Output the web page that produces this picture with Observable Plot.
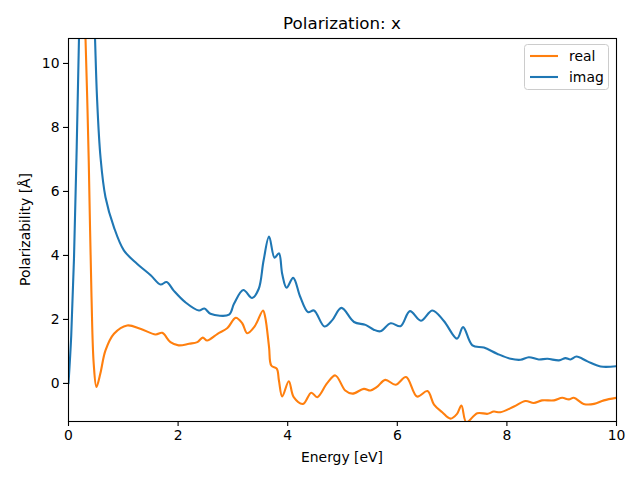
<!DOCTYPE html>
<html>
<head>
<meta charset="utf-8">
<script src="https://cdn.jsdelivr.net/npm/d3@7"></script>
<script src="https://cdn.jsdelivr.net/npm/@observablehq/plot@0.6"></script>
<style>
  html, body { margin: 0; padding: 0; background: white; }
</style>
</head>
<body>
<div id="chart"></div>
<script>
// Energy [eV] and imaginary part
const imagEnergy = [0, 0.05, 0.1, 0.15, 0.2, 0.27, 0.35, 0.42, 0.48, 0.52, 0.584, 0.675, 0.83, 1.01, 1.25, 1.5, 1.68, 1.79, 1.92, 2.13, 2.38, 2.48, 2.59, 2.93, 3.02, 3.19, 3.35, 3.47, 3.56, 3.66, 3.76, 3.84, 3.90, 3.98, 4.10, 4.23, 4.37, 4.48, 4.67, 4.81, 4.98, 5.21, 5.42, 5.57, 5.69, 5.88, 6.06, 6.23, 6.43, 6.64, 6.85, 7.09, 7.20, 7.37, 7.58, 7.82, 8.07, 8.25, 8.40, 8.58, 8.74, 8.95, 9.07, 9.16, 9.27, 9.47, 9.71, 10.0];
const imagValues = [0, 1.5, 3.9, 7.4, 11.5, 16, 17, 14, 11, 8.95, 7.07, 5.82, 4.88, 4.16, 3.74, 3.38, 3.09, 3.17, 2.9, 2.54, 2.28, 2.34, 2.18, 2.15, 2.49, 2.92, 2.67, 2.95, 3.84, 4.59, 3.93, 4.07, 3.42, 2.99, 3.3, 2.7, 2.23, 2.28, 1.78, 1.97, 2.36, 1.92, 1.83, 1.68, 1.63, 1.88, 1.79, 2.26, 1.96, 2.28, 1.95, 1.40, 1.76, 1.19, 1.12, 0.93, 0.77, 0.74, 0.82, 0.75, 0.77, 0.72, 0.79, 0.75, 0.84, 0.69, 0.53, 0.54];

// Energy [eV] and real part
const realEnergy = [0, 0.2, 0.28, 0.31, 0.34, 0.37, 0.42, 0.46, 0.51, 0.58, 0.675, 0.83, 1.07, 1.31, 1.59, 1.71, 1.86, 2.01, 2.20, 2.35, 2.45, 2.53, 2.72, 2.90, 3.05, 3.17, 3.26, 3.40, 3.55, 3.59, 3.66, 3.70, 3.80, 3.84, 3.90, 4.02, 4.11, 4.28, 4.43, 4.54, 4.72, 4.87, 5.05, 5.18, 5.39, 5.51, 5.63, 5.78, 5.97, 6.16, 6.36, 6.55, 6.67, 6.82, 6.97, 7.09, 7.17, 7.26, 7.46, 7.65, 7.76, 7.88, 8.13, 8.34, 8.49, 8.64, 8.86, 9.01, 9.13, 9.22, 9.40, 9.59, 9.77, 10.0];
const realValues = [20, 15, 12.3, 10.8, 9.0, 6.9, 2.7, 0.62, -0.11, 0.3, 1.03, 1.55, 1.81, 1.71, 1.53, 1.58, 1.29, 1.19, 1.24, 1.29, 1.43, 1.34, 1.55, 1.73, 2.05, 1.88, 1.57, 1.79, 2.28, 2.07, 1.13, 0.56, 0.46, 0.09, -0.41, 0.07, -0.43, -0.64, -0.29, -0.43, 0.01, 0.25, -0.22, -0.32, -0.17, -0.22, -0.11, 0.11, -0.04, 0.2, -0.41, -0.24, -0.66, -0.9, -1.1, -0.95, -0.69, -1.21, -0.93, -0.95, -0.88, -0.9, -0.72, -0.55, -0.61, -0.53, -0.53, -0.45, -0.5, -0.45, -0.64, -0.64, -0.53, -0.45];

const xTicks = [0, 2, 4, 6, 8, 10];
const yTicks = [0, 2, 4, 6, 8, 10];
const seriesNames = ["real", "imag"];
const seriesColors = ["#ff7f0e", "#1f77b4"];

const imagData = imagEnergy.map((e, i) => ({energy: e, value: imagValues[i]}));
const realData = realEnergy.map((e, i) => ({energy: e, value: realValues[i]}));

const W = 640, H = 480, ML = 68, MR = 24, MT = 38, MB = 59;
const font = "DejaVu Sans, sans-serif";

const plot = Plot.plot({
  width: W,
  height: H,
  marginLeft: ML,
  marginRight: MR,
  marginTop: MT,
  marginBottom: MB,
  style: {fontFamily: font, fontSize: "13.9px", color: "black", background: "white"},
  x: {domain: [0, 10]},
  y: {domain: [-1.19, 10.78]},
  marks: [
    Plot.line(realData, {x: "energy", y: "value", stroke: seriesColors[0], strokeWidth: 2.1, curve: "catmull-rom", clip: true}),
    Plot.line(imagData, {x: "energy", y: "value", stroke: seriesColors[1], strokeWidth: 2.1, curve: "catmull-rom", clip: true}),
    Plot.axisX({ticks: xTicks, tickSize: 5, tickPadding: 4, tickFormat: d => String(d), label: null, stroke: "black", strokeWidth: 1.1, strokeOpacity: 1, fill: "black"}),
    Plot.axisY({ticks: yTicks, tickSize: 5, tickPadding: 4, tickFormat: d => String(d), label: null, stroke: "black", strokeWidth: 1.1, strokeOpacity: 1, fill: "black"}),
    Plot.frame({stroke: "black", strokeWidth: 1.1})
  ]
});

const svg = d3.select(plot);
const cx = ML + (W - ML - MR) / 2;
// Title
svg.append("text").attr("x", cx).attr("y", 29).attr("text-anchor", "middle")
  .attr("font-family", font).attr("font-size", "16.7px").attr("fill", "black").text("Polarization: x");
// X label
svg.append("text").attr("x", cx).attr("y", 462).attr("text-anchor", "middle")
  .attr("font-family", font).attr("font-size", "13.9px").attr("fill", "black").text("Energy [eV]");
// Y label
svg.append("text").attr("transform", `translate(30,${MT + (H - MT - MB) / 2}) rotate(-90)`).attr("text-anchor", "middle")
  .attr("font-family", font).attr("font-size", "13.9px").attr("fill", "black").text("Polarizability [Å]");

// Legend
const lg = svg.append("g");
lg.append("rect").attr("x", 524.5).attr("y", 44.5).attr("width", 84).attr("height", 45).attr("rx", 3)
  .attr("fill", "white").attr("fill-opacity", 0.8).attr("stroke", "#cccccc").attr("stroke-width", 1);
seriesNames.forEach((name, i) => {
  const yy = 56 + i * 21;
  lg.append("line").attr("x1", 530).attr("x2", 558).attr("y1", yy).attr("y2", yy)
    .attr("stroke", seriesColors[i]).attr("stroke-width", 2.1);
  lg.append("text").attr("x", 569).attr("y", yy + 5).attr("text-anchor", "start").attr("font-family", font).attr("font-size", "13.9px")
    .attr("fill", "black").text(name);
});

document.getElementById("chart").appendChild(plot);
</script>
</body>
</html>
